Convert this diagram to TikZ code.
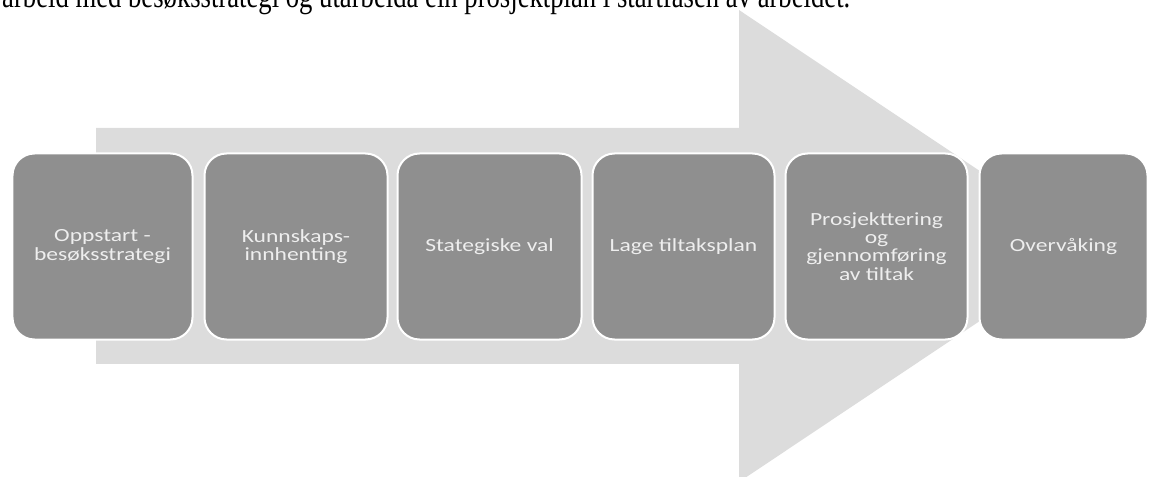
\documentclass[tikz,border=0pt]{standalone}
\usepackage{fontspec}
\usepackage{graphicx}
\setmainfont{Liberation Serif}
\newfontfamily\boxfont[FakeStretch=1.27]{Carlito}
\definecolor{arrowgrey}{RGB}{220,220,220}
\definecolor{boxgrey}{RGB}{143,143,143}
\definecolor{boxtext}{RGB}{238,238,238}
\begin{document}
\begin{tikzpicture}[x=1bp,y=-1bp,
  stepbox/.style={draw=white, line width=2bp, fill=boxgrey, rounded corners=22bp,
    minimum height=186bp, text=boxtext, align=center, inner sep=0pt,
    font=\boxfont\fontsize{18.6}{18.3}\selectfont},
  toptext/.style={anchor=base west, inner sep=0pt, text=black}]
\useasboundingbox (0,0) rectangle (1150,477);
\clip (0,0) rectangle (1150,477);
% big background arrow
\fill[arrowgrey] (96,128) -- (739,128) -- (739,10) -- (1092,246) -- (739,482) -- (739,364) -- (96,364) -- cycle;
% cut-off line of text above
\node[toptext] (top) at (2,8) {\resizebox{848bp}{\height}{\fontsize{34}{40}\selectfont arbeid med besøksstrategi og utarbeida ein prosjektplan i startfasen av arbeidet.}};
% steps
\node[stepbox, minimum width=180bp] (s1) at (102.5,246.5) {Oppstart -\\besøksstrategi};
\node[stepbox, minimum width=183bp] (s2) at (296,246.5) {Kunnskaps-\\innhenting};
\node[stepbox, minimum width=184bp] (s3) at (489.5,246.5) {Stategiske val};
\node[stepbox, minimum width=182bp] (s4) at (683.5,246.5) {Lage tiltaksplan};
\node[stepbox, minimum width=182bp] (s5) at (876.5,246.5) {Prosjekttering\\og\\gjennomføring\\av tiltak};
\node[stepbox, minimum width=168bp] (s6) at (1063.5,246.5) {Overvåking};
\end{tikzpicture}
\end{document}
